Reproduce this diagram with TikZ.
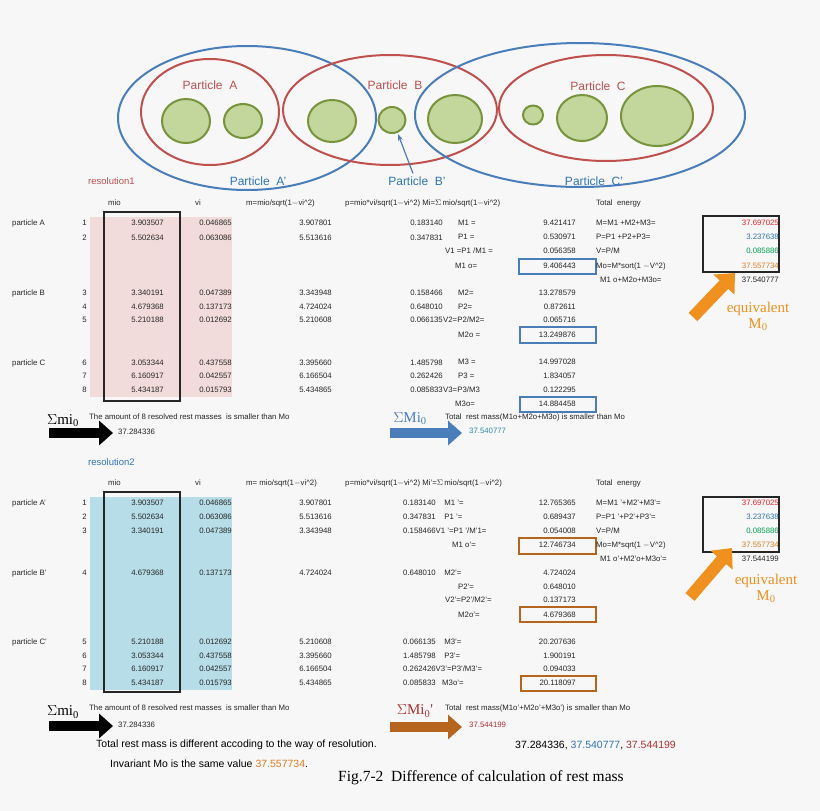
\documentclass[tikz,border=0pt]{standalone}
\usepackage{fontspec}
\setmainfont{Liberation Sans}
\newfontfamily\serifff{Liberation Serif}
\usetikzlibrary{arrows.meta}
\definecolor{bg}{HTML}{F7F7F7}
\definecolor{pred}{HTML}{C0504D}
\definecolor{pblue}{HTML}{4A7EBB}
\definecolor{gfill}{HTML}{C3D69B}
\definecolor{gline}{HTML}{77933C}
\definecolor{pink}{HTML}{F2DCDB}
\definecolor{cyanb}{HTML}{B7DDE8}
\definecolor{orng}{HTML}{F0901E}
\definecolor{brn}{HTML}{B5651D}
\definecolor{dred}{HTML}{B03030}
\definecolor{teal}{HTML}{2E8BA8}
\definecolor{nred}{HTML}{E82020}
\definecolor{nblue}{HTML}{2E75B6}
\definecolor{ngreen}{HTML}{00A050}
\definecolor{norange}{HTML}{E07B20}
\tikzset{
 t/.style={font=\fontsize{7.8}{8}\selectfont, inner sep=0pt, text=black!85},
 r/.style={t, anchor=east},
 l/.style={t, anchor=west},
 redell/.style={draw=pred, line width=2pt},
 blueell/.style={draw=pblue, line width=2pt},
 grn/.style={draw=gline, fill=gfill, line width=2pt},
 plab/.style={font=\fontsize{12}{13}\selectfont, inner sep=0pt},
 bbox/.style={draw=pblue, line width=1.3pt},
 obox/.style={draw=brn, line width=1.3pt},
 kbox/.style={draw=black!85, line width=1.3pt},
 fat/.style={line width=10pt, -{Triangle[length=14pt,width=24pt]}},
 ofat/.style={line width=12pt, -{Triangle[length=16pt,width=28pt]}},
 sig/.style={font=\serifff\fontsize{15}{16}\selectfont, inner sep=0pt},
 eq/.style={font=\serifff\fontsize{15}{16}\selectfont, text=orng, inner sep=0pt, align=center},
 big/.style={font=\fontsize{10.5}{11}\selectfont, inner sep=0pt, anchor=west},
}
\begin{document}
\begin{tikzpicture}[x=1pt,y=-1pt]
\fill[bg] (0,0) rectangle (820,811);
\useasboundingbox (0,0) rectangle (820,811);
% ellipses
\draw[blueell] (247,118) ellipse (129 and 72);
\draw[redell] (210,112) ellipse (69 and 53);
\draw[redell] (390,110) ellipse (107 and 55);
\draw[redell] (606,108) ellipse (107 and 53);
\draw[blueell] (580,115) ellipse (165 and 72);
\draw[grn] (186,121) ellipse (24 and 22);
\draw[grn] (243,121) ellipse (19 and 17);
\draw[grn] (332,121) ellipse (24 and 21);
\draw[grn] (392,120) ellipse (13.5 and 13);
\draw[grn] (455,119) ellipse (27 and 24);
\draw[grn] (533,115) ellipse (10 and 9.5);
\draw[grn] (582,118) ellipse (25 and 23);
\draw[grn] (657,116) ellipse (36 and 30);
\node[plab,text=pred] (pa) at (210,85) {Particle\ \ A};
\node[plab,text=pred] (pb) at (395,85) {Particle\ \ B};
\node[plab,text=pred] (pc) at (598,86) {Particle\ \ C};
\node[plab,text=nblue] (pa2) at (258,181) {Particle\ \ A'};
\node[plab,text=nblue] (pb2) at (417,181) {Particle\ \ B'};
\node[plab,text=nblue] (pc2) at (594,181) {Particle\ \ C'};
\coordinate (btip) at (398,134);
\draw[pblue,line width=1.2pt,-{Stealth[length=7pt]}] (pb2.north) ++(-4,-3) -- (btip);
\node[t,anchor=west,text=pred,font=\fontsize{9.5}{10}\selectfont] (res1) at (88,181) {resolution1};
% ===== upper table
\fill[pink] (90,217) rectangle (232,397);
\draw[kbox] (104,212) rectangle (180,401);
\node[l] at (108,203) {mio};
\node[l] at (195,203) {vi};
\node[l] at (246,203) {m=mio/sqrt(1$-$vi\^{}2)};
\node[l] at (345,203) {p=mio*vi/sqrt(1$-$vi\^{}2)\ Mi=$\Sigma$\,mio/sqrt(1$-$vi\^{}2)};
\node[l] at (596,203) {Total\ \ energy};
\node[l] at (12,223) {particle A};
\node[l] at (12,293) {particle B};
\node[l] at (12,363) {particle C};
\foreach \i/\y/\a/\b/\c/\d in {1/223/3.903507/0.046865/3.907801/0.183140,2/238/5.502634/0.063086/5.513616/0.347831,3/293/3.340191/0.047389/3.343948/0.158466,4/307/4.679368/0.137173/4.724024/0.648010,5/320/5.210188/0.012692/5.210608/0.066135,6/363/3.053344/0.437558/3.395660/1.485798,7/376/6.160917/0.042557/6.166504/0.262426,8/390/5.434187/0.015793/5.434865/0.085833}{
 \node[r] at (87,\y) {\i};
 \node[r] at (164,\y) {\a};
 \node[r] at (232,\y) {\b};
 \node[r] at (332,\y) {\c};
 \node[r] at (443,\y) {\d};
}
\foreach \y/\lab/\v in {223/M1 =/9.421417,237/P1 =/0.530971,293/M2=/13.278579,307/P2=/0.872611,362/M3 =/14.997028,376/P3 =/1.834057}{
 \node[l] at (458,\y) {\lab};
 \node[r] at (576,\y) {\v};
}
\node[l] at (445,251) {V1 =P1 /M1 =}; \node[r] at (576,251) {0.056358};
\node[l] at (443,320) {V2=P2/M2=}; \node[r] at (576,320) {0.065716};
\node[l] at (443,390) {V3=P3/M3}; \node[r] at (576,390) {0.122295};
\node[l] at (455,266) {M1 o=}; \node[r] at (576,266) {9.406443};
\node[l] at (458,335) {M2o =}; \node[r] at (576,335) {13.249876};
\node[l] at (455,404) {M3o=}; \node[r] at (576,404) {14.884458};
\draw[bbox] (519,259) rectangle (596,274);
\draw[bbox] (520,327) rectangle (596,343);
\draw[bbox] (520,397) rectangle (596,412);
\node[l] at (596,223) {M=M1 +M2+M3=};
\node[l] at (596,237) {P=P1 +P2+P3=};
\node[l] at (596,251) {V=P/M};
\node[l] at (596,266) {Mo=M*sort(1 $-$V\^{}2)};
\node[l] at (600,280) {M1 o+M2o+M3o=};
\node[r,text=nred] at (779,223) {37.697025};
\node[r,text=nblue] at (779,237) {3.237638};
\node[r,text=ngreen] at (779,251) {0.085886};
\node[r,text=norange] at (779,266) {37.557734};
\node[r] at (779,280) {37.540777};
\draw[kbox] (703,216) rectangle (779,272);
\coordinate (o1t) at (693,317); \coordinate (o1h) at (735,273);
\draw[orng,ofat] (o1t) -- (o1h);
\node[eq] (eq1) at (758,316) {equivalent\\M\textsubscript{0}};
\node[sig] (s1) at (63,421) {$\Sigma$mi\textsubscript{0}};
\node[l] at (89,417) {The amount of 8 resolved rest masses\ \ is smaller than Mo};
\coordinate (a1t) at (49,433); \coordinate (a1h) at (113,433);
\draw[black,fat] (a1t) -- (a1h);
\node[l] at (118,432) {37.284336};
\node[sig,text=pblue] (s2) at (410,419) {$\Sigma$Mi\textsubscript{0}};
\node[l] at (445,417) {Total\ \ rest mass(M1o+M2o+M3o) is smaller than Mo};
\coordinate (a2t) at (390,433); \coordinate (a2h) at (462,433);
\draw[pblue,fat] (a2t) -- (a2h);
\node[l,text=teal] at (469,431) {37.540777};
% ===== lower table
\node[t,anchor=west,text=nblue,font=\fontsize{9.5}{10}\selectfont] (res2) at (88,462) {resolution2};
\fill[cyanb] (90,497) rectangle (232,690);
\draw[kbox] (104,492) rectangle (180,692);
\node[l] at (108,483) {mio};
\node[l] at (195,483) {vi};
\node[l] at (246,483) {m= mio/sqrt(1$-$vi\^{}2)};
\node[l] at (345,483) {p=mio*vi/sqrt(1$-$vi\^{}2)\ Mi'=$\Sigma$\,mio/sqrt(1$-$vi\^{}2)};
\node[l] at (596,483) {Total\ \ energy};
\node[l] at (12,503) {particle A'};
\node[l] at (12,573) {particle B'};
\node[l] at (12,642) {particle C'};
\foreach \i/\y/\a/\b/\c in {1/503/3.903507/0.046865/3.907801,2/517/5.502634/0.063086/5.513616,3/531/3.340191/0.047389/3.343948,4/573/4.679368/0.137173/4.724024,5/642/5.210188/0.012692/5.210608,6/656/3.053344/0.437558/3.395660,7/669/6.160917/0.042557/6.166504,8/683/5.434187/0.015793/5.434865}{
 \node[r] at (87,\y) {\i};
 \node[r] at (164,\y) {\a};
 \node[r] at (232,\y) {\b};
 \node[r] at (332,\y) {\c};
}
\node[l] at (403,503) {0.183140\ \ \ \ M1 '=}; \node[r] at (576,503) {12.765365};
\node[l] at (403,517) {0.347831\ \ \ \ P1 '=}; \node[r] at (576,517) {0.689437};
\node[l] at (403,531) {0.158466V1 '=P1 '/M'1=}; \node[r] at (576,531) {0.054008};
\node[l] at (452,545) {M1 o'=}; \node[r] at (576,545) {12.746734};
\node[l] at (403,573) {0.648010\ \ \ \ M2'=}; \node[r] at (576,573) {4.724024};
\node[l] at (458,587) {P2'=}; \node[r] at (576,587) {0.648010};
\node[l] at (445,600) {V2'=P2'/M2'=}; \node[r] at (576,600) {0.137173};
\node[l] at (458,615) {M2o'=}; \node[r] at (576,615) {4.679368};
\node[l] at (403,642) {0.066135\ \ \ \ M3'=}; \node[r] at (576,642) {20.207636};
\node[l] at (403,656) {1.485798\ \ \ \ P3'=}; \node[r] at (576,656) {1.900191};
\node[l] at (403,669) {0.262426V3'=P3'/M3'=}; \node[r] at (576,669) {0.094033};
\node[l] at (403,683) {0.085833\ \ \ M3o'=}; \node[r] at (576,683) {20.118097};
\draw[obox] (519,538) rectangle (596,554);
\draw[obox] (520,607) rectangle (596,622);
\draw[obox] (521,676) rectangle (596,691);
\node[l] at (596,503) {M=M1 '+M2'+M3'=};
\node[l] at (596,517) {P=P1 '+P2'+P3'=};
\node[l] at (596,531) {V=P/M};
\node[l] at (596,545) {Mo=M*sqrt(1 $-$V\^{}2)};
\node[l] at (600,559) {M1 o'+M2'o+M3o'=};
\node[r,text=nred] at (779,503) {37.697025};
\node[r,text=nblue] at (779,517) {3.237638};
\node[r,text=ngreen] at (779,531) {0.085886};
\node[r,text=norange] at (779,545) {37.557734};
\node[r] at (779,559) {37.544199};
\draw[kbox] (703,497) rectangle (779,552);
\coordinate (o2t) at (690,597); \coordinate (o2h) at (732,548);
\draw[orng,ofat] (o2t) -- (o2h);
\node[eq] (eq2) at (766,588) {equivalent\\M\textsubscript{0}};
\node[sig] (s3) at (63,712) {$\Sigma$mi\textsubscript{0}};
\node[l] at (89,708) {The amount of 8 resolved rest masses\ \ is smaller than Mo};
\coordinate (a3t) at (49,726); \coordinate (a3h) at (113,726);
\draw[black,fat] (a3t) -- (a3h);
\node[l] at (118,725) {37.284336};
\node[sig,text=dred] (s4) at (415,711) {$\Sigma$Mi\textsubscript{0}'};
\node[l] at (445,708) {Total\ \ rest mass(M1o'+M2o'+M3o') is smaller than Mo};
\coordinate (a4t) at (390,727); \coordinate (a4h) at (462,727);
\draw[brn,fat] (a4t) -- (a4h);
\node[l,text=dred] at (469,725) {37.544199};
% bottom
\node[big] at (96,745) {Total rest mass is different accoding to the way of resolution.};
\node[big] at (110,764) {Invariant Mo is the same value \textcolor{norange}{37.557734}.};
\node[big] at (515,745) {37.284336, \textcolor{nblue}{37.540777}, \textcolor{dred}{37.544199}};
\node[font=\serifff\fontsize{15.5}{16}\selectfont,inner sep=0pt,anchor=west] (cap) at (338,778) {Fig.7-2\ \ Difference of calculation of rest mass};
\end{tikzpicture}
\end{document}
